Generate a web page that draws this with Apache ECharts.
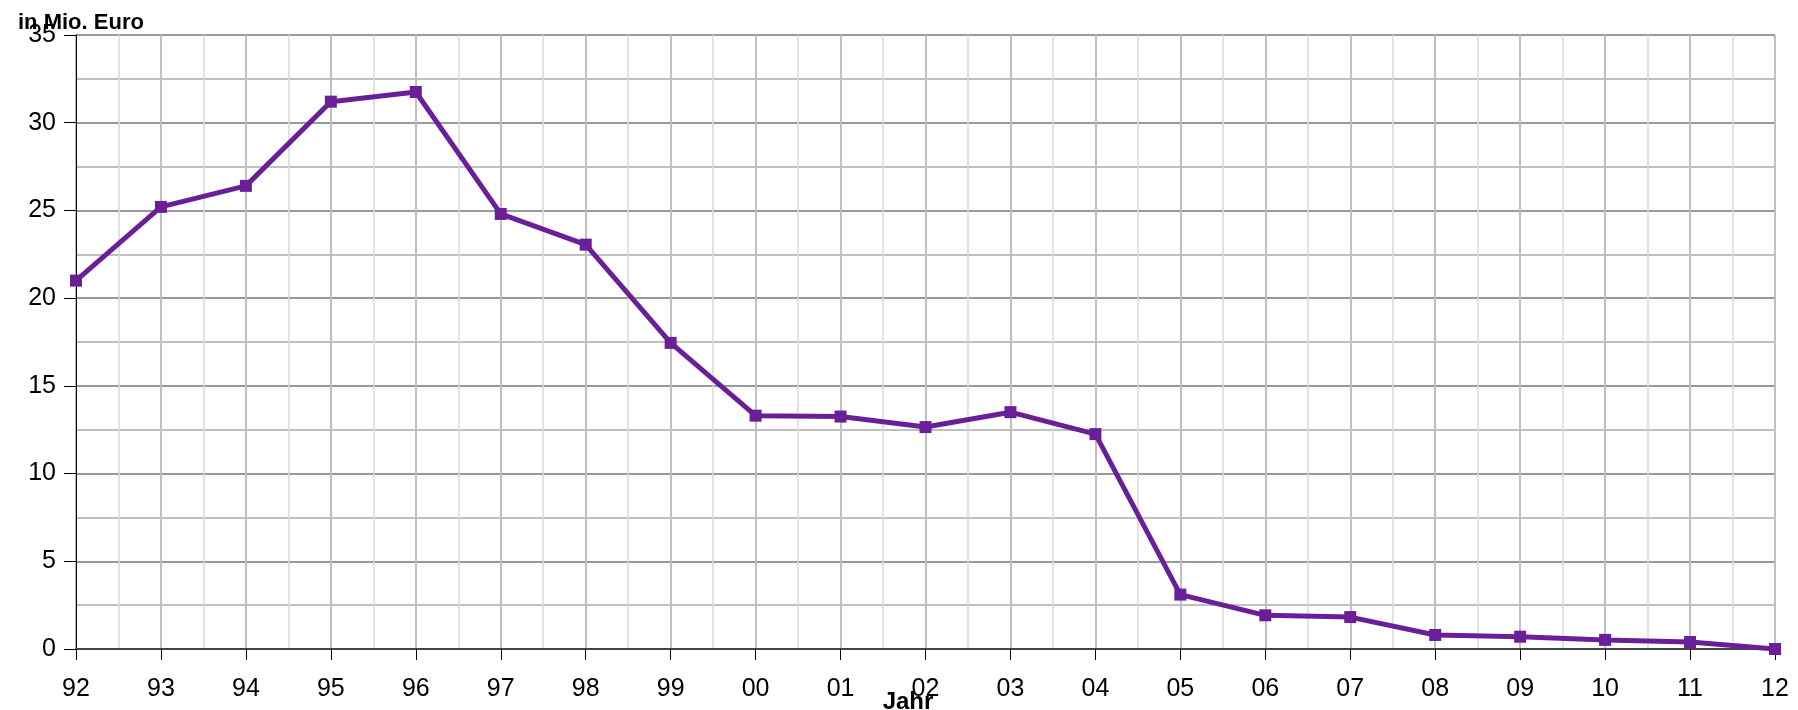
<!DOCTYPE html>
<html>
<head>
<meta charset="utf-8">
<script src="https://cdn.jsdelivr.net/npm/echarts@6/dist/echarts.min.js"></script>
<style>
    html,body{margin:0;padding:0;background:#fff;}
    #chart{width:1798px;height:710px;}
</style>
</head>
<body>
<div id="chart"></div>
<script>
// Jahre (x-Achse) und Werte in Mio. Euro
var jahre = ["92","93","94","95","96","97","98","99","00","01","02","03","04","05","06","07","08","09","10","11","12"];
var werte = [21.0,25.2,26.4,31.2,31.75,24.8,23.05,17.45,13.3,13.25,12.65,13.5,12.25,3.1,1.92,1.82,0.8,0.7,0.52,0.4,0.0];
var yTicks = [0,35,5]; // min, max, interval

var punkte = [];
for(var i=0;i<werte.length;i++){
    punkte.push([i,werte[i]]);
}

var myChart = echarts.init(document.getElementById('chart'));
var option = {
    animation:false,
    backgroundColor:'#fff',
    title:{
        text:'in Mio. Euro',
        left:13,
        top:7,
        textStyle:{
            fontFamily:'Liberation Sans',
            fontWeight:'bold',
            fontSize:22,
            color:'#000'
        }
    },
    grid:{
        left:76,
        right:23,
        top:35,
        bottom:61,
        outerBoundsMode:'none',
        containLabel:false
    },
    xAxis:{
        type:'value',
        min:0,
        max:jahre.length-1,
        interval:1,
        name:'Jahr',
        nameLocation:'middle',
        nameGap:41,
        nameMoveOverlap:false,
        nameTextStyle:{
            fontFamily:'Liberation Sans',
            fontWeight:'bold',
            fontSize:24,
            color:'#000',
            padding:[0,35,0,0]
        },
        axisLine:{show:true,onZero:false,lineStyle:{color:'#444',width:2}},
        axisTick:{show:true,length:11,lineStyle:{color:'#000',width:1}},
        axisLabel:{
            margin:28,
            fontFamily:'Liberation Sans',
            fontSize:25,
            color:'#000',
            formatter:function(v){ return jahre[v] !== undefined ? jahre[v] : ''; }
        },
        splitLine:{show:true,lineStyle:{color:'#c0c0c0',width:2}},
        minorTick:{show:false,splitNumber:2},
        minorSplitLine:{show:true,lineStyle:{color:'#d9d9d9',width:1.5}}
    },
    yAxis:{
        type:'value',
        min:yTicks[0],
        max:yTicks[1],
        interval:yTicks[2],
        axisLine:{show:true,lineStyle:{color:'#000',width:1}},
        axisTick:{show:true,length:12,lineStyle:{color:'#000',width:1}},
        axisLabel:{
            margin:20,
            fontFamily:'Liberation Sans',
            fontSize:25,
            color:'#000'
        },
        splitLine:{show:true,lineStyle:{color:'#999',width:2}},
        minorTick:{show:false,splitNumber:2},
        minorSplitLine:{show:true,lineStyle:{color:'#c0c0c0',width:2}}
    },
    series:[
        {
            type:'line',
            data:punkte,
            symbol:'rect',
            symbolSize:12,
            lineStyle:{color:'#6a1f98',width:5},
            itemStyle:{color:'#6a1f98'},
            z:5
        }
    ]
};
myChart.setOption(option);
</script>
</body>
</html>
